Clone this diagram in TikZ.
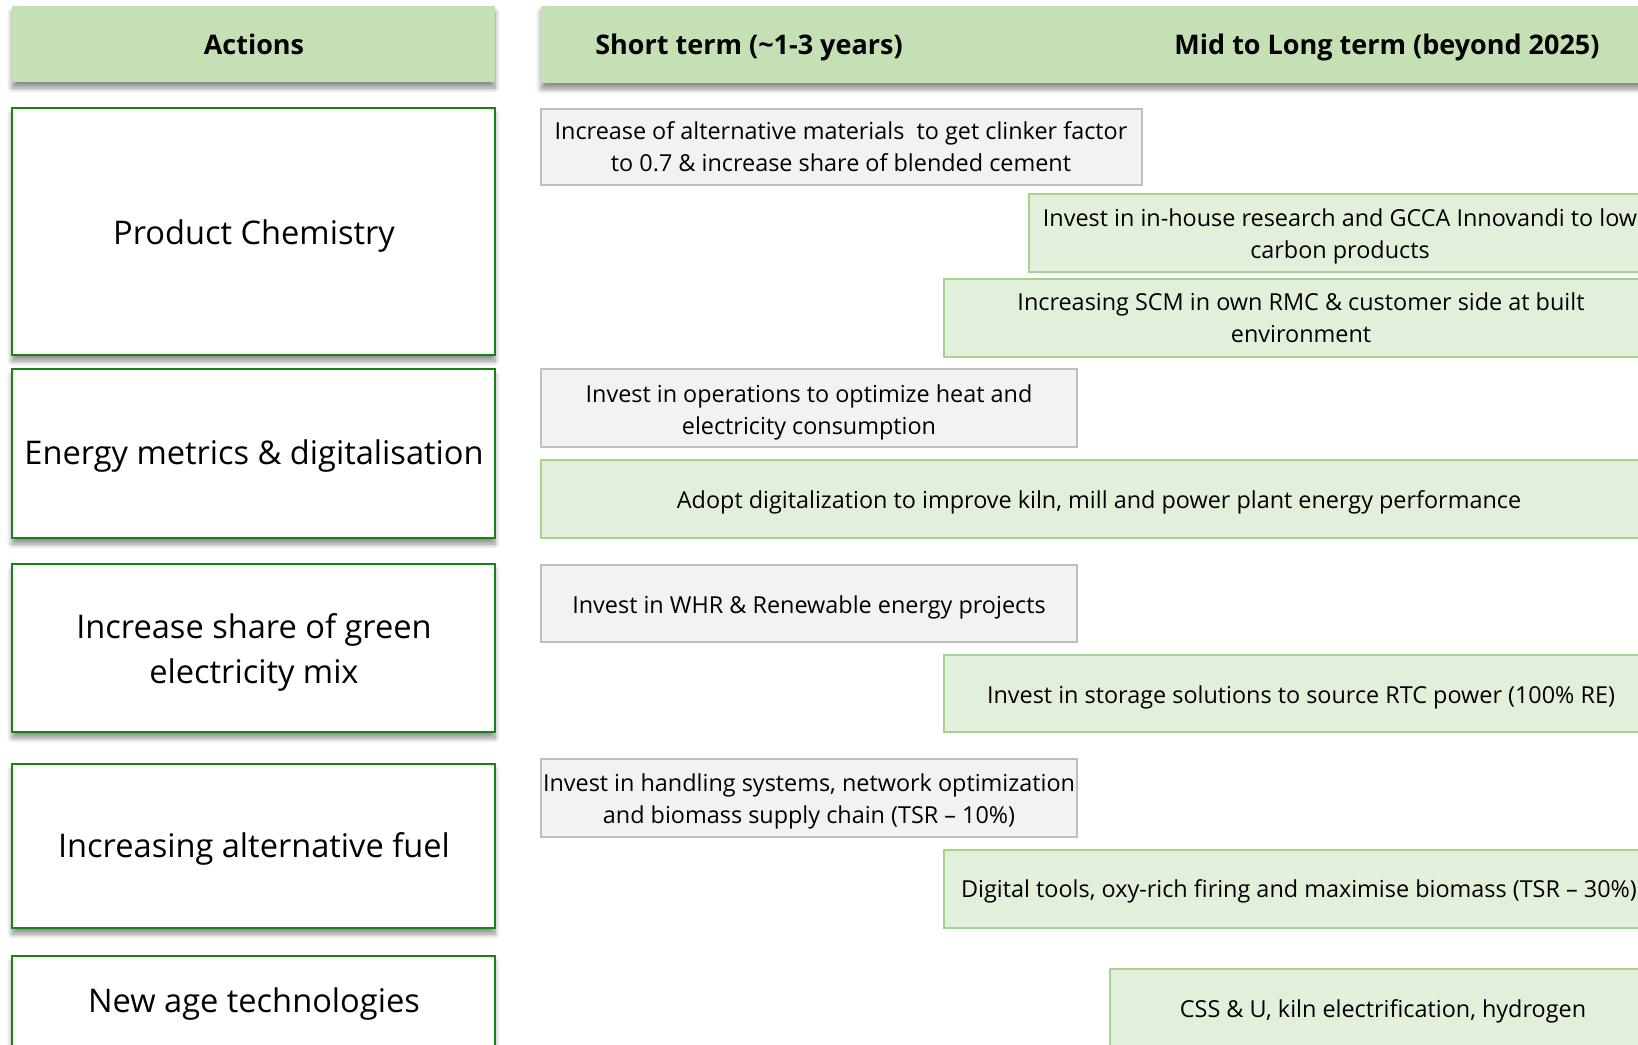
\documentclass[tikz,border=0pt]{standalone}
\usepackage{fontspec}
\setmainfont{Open Sans}
\usetikzlibrary{shadows.blur}

\definecolor{headfill}{RGB}{197,224,180}
\definecolor{actline}{RGB}{24,130,24}
\definecolor{nowfill}{RGB}{242,242,242}
\definecolor{nowline}{RGB}{191,191,191}
\definecolor{laterfill}{RGB}{226,239,218}
\definecolor{laterline}{RGB}{169,209,142}

\tikzset{every picture/.style={line width=0.75pt},
	softshadow/.style={blur shadow={shadow xshift=0pt, shadow yshift=-3pt, shadow blur steps=8, shadow blur radius=2.5pt, shadow opacity=45}},
	headbox/.style={fill=headfill, draw=none, softshadow},
	actbox/.style={fill=white, draw=actline, line width=1.4pt, softshadow},
	nowbox/.style={fill=nowfill, draw=nowline, line width=1pt},
	laterbox/.style={fill=laterfill, draw=laterline, line width=1pt},
	headtext/.style={font=\fontsize{13.5}{16}\selectfont\bfseries},
	acttext/.style={font=\fontsize{16.3}{22.5}\selectfont, align=center},
	stagetext/.style={font=\fontsize{11.7}{16}\selectfont, align=center}
}

\begin{document}
\begin{tikzpicture}[x=0.5pt,y=0.5pt,yscale=-1,xscale=1]
	\useasboundingbox (0,0) rectangle (1638,1044);
	\clip (0,0) rectangle (1638,1044);

	%Shape: Rectangle [header actions]
	\draw [headbox] (12,6) rectangle (495,82);
	%Shape: Rectangle [header terms]
	\draw [headbox] (541,6) rectangle (1680,83);

	%Shape: Rectangle [actions]
	\draw [actbox] (12,108) rectangle (495,355);
	\draw [actbox] (12,369) rectangle (495,538);
	\draw [actbox] (12,564) rectangle (495,732);
	\draw [actbox] (12,764) rectangle (495,928);
	\draw [actbox] (12,956) rectangle (495,1080);

	%Shape: Rectangle [short term]
	\draw [nowbox] (541,109) rectangle (1142,185);
	\draw [nowbox] (541,369) rectangle (1077,447);
	\draw [nowbox] (541,565) rectangle (1077,642);
	\draw [nowbox] (541,759) rectangle (1077,837);

	%Shape: Rectangle [mid to long term]
	\draw [laterbox] (1029,194) rectangle (1659,272);
	\draw [laterbox] (944,279) rectangle (1658,357);
	\draw [laterbox] (541,460) rectangle (1657,538);
	\draw [laterbox] (944,655) rectangle (1658,732);
	\draw [laterbox] (944,850) rectangle (1658,928);
	\draw [laterbox] (1110,969) rectangle (1656,1080);

	% Text Node
	\node [headtext] (actions) at (254,44) {Actions};
	% Text Node
	\node [headtext] (shortterm) at (749,47) {Short term (\textasciitilde 1-3 years)};
	% Text Node
	\node [headtext] (longterm) at (1387,47) {Mid to Long term (beyond 2025)};

	% Text Node
	\node [acttext] (chemistry) at (254,236) {Product Chemistry};
	% Text Node
	\node [acttext] (energy) at (254,456) {Energy metrics \& digitalisation};
	% Text Node
	\node [acttext] (green) at (254,652) {Increase share of green\\electricity mix};
	% Text Node
	\node [acttext] (fuel) at (254,849) {Increasing alternative fuel};
	% Text Node
	\node [acttext] (newtech) at (254,1004) {New age technologies};

	% Text Node
	\node [stagetext] (clinker) at (841,147) {Increase of alternative materials\ \ to get clinker factor\\to 0.7 \& increase share of blended cement};
	% Text Node
	\node [stagetext] (research) at (1340,236) {Invest in in-house research and GCCA Innovandi to low\\carbon products};
	% Text Node
	\node [stagetext] (scm) at (1301,318) {Increasing SCM in own RMC \& customer side at built\\environment};
	% Text Node
	\node [stagetext] (operations) at (809,412) {Invest in operations to optimize heat and\\electricity consumption};
	% Text Node
	\node [stagetext] (digital) at (1099,502) {Adopt digitalization to improve kiln, mill and power plant energy performance};
	% Text Node
	\node [stagetext] (whr) at (809,607) {Invest in WHR \& Renewable energy projects};
	% Text Node
	\node [stagetext] (storage) at (1301,697) {Invest in storage solutions to source RTC power (100\% RE)};
	% Text Node
	\node [stagetext] (handling) at (809,801) {Invest in handling systems, network optimization\\and biomass supply chain (TSR -- 10\%)};
	% Text Node
	\node [stagetext] (biomass) at (1299,891) {Digital tools, oxy-rich firing and maximise biomass (TSR -- 30\%)};
	% Text Node
	\node [stagetext] (ccus) at (1383,1011) {CSS \& U, kiln electrification, hydrogen};

\end{tikzpicture}
\end{document}
